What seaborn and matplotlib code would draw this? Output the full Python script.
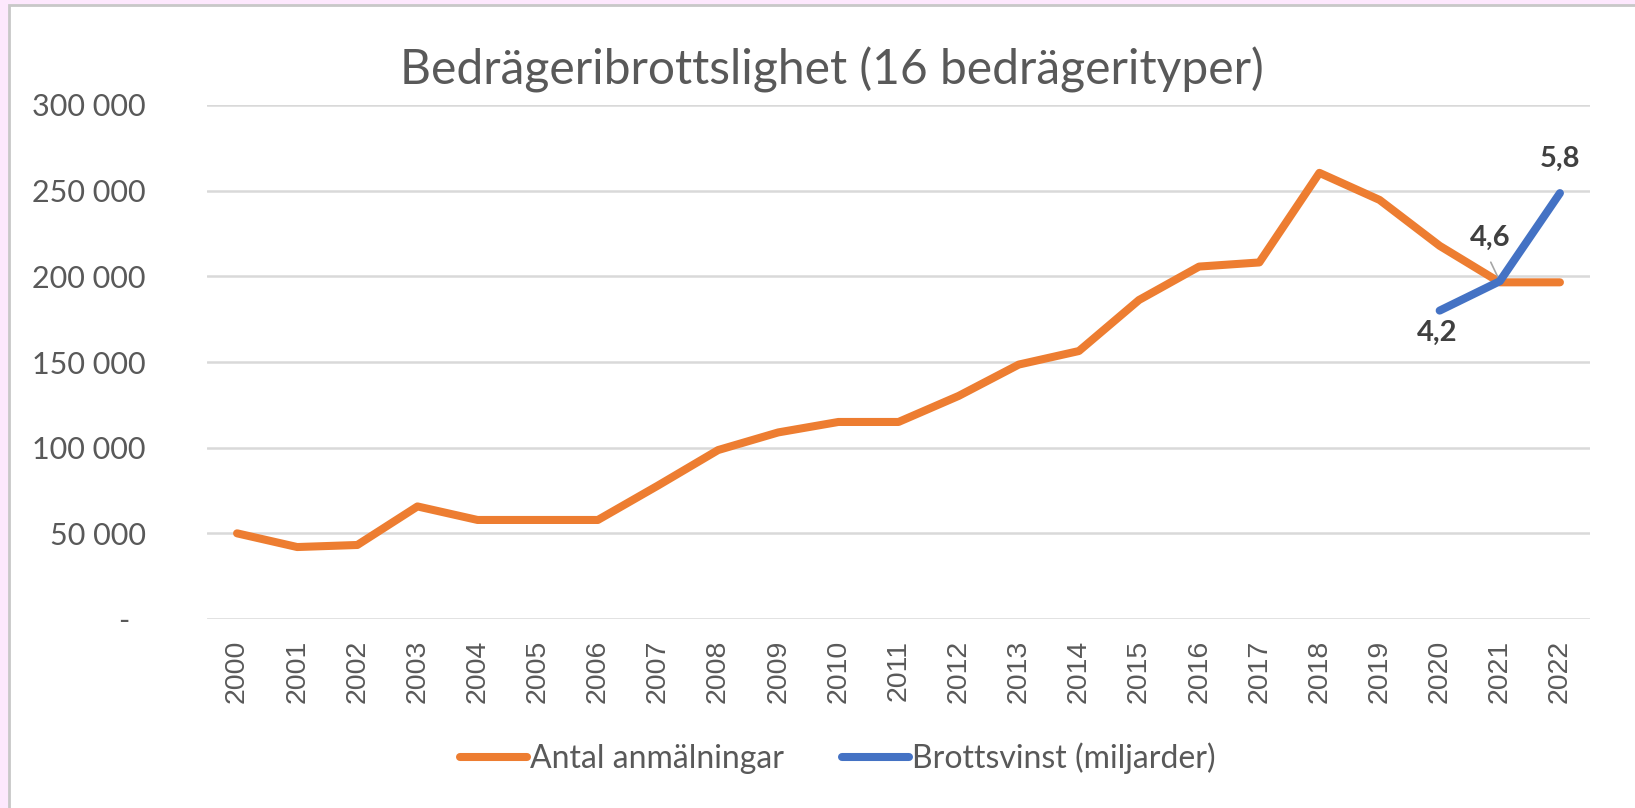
import matplotlib
matplotlib.use("Agg")
import matplotlib.pyplot as plt
import matplotlib.ticker as mticker
from matplotlib.patches import Rectangle
from matplotlib.lines import Line2D
import seaborn as sns
import pandas as pd

# values
years = list(range(2000, 2023))
anmalningar = [50000, 42000, 43200, 65700, 57800, 57800, 57800, 77900, 98600,
               108900, 115000, 115000, 130200, 148500, 156400, 186200, 205700,
               208100, 260400, 244600, 217800, 196500, 196500]
vinst_years = [2020, 2021, 2022]
vinst = [4.2, 4.6, 5.8]
vinst_labels = ["4,2", "4,6", "5,8"]
y_ticks = [0, 50000, 100000, 150000, 200000, 250000, 300000]

ORANGE = "#ED7D31"
BLUE = "#4472C4"
GRID = "#D9D9D9"
TEXT = "#595959"
LABEL = "#404040"

sns.set_theme(style="white")
plt.rcParams["font.family"] = ["Lato", "DejaVu Sans"]

W, H = 1635, 808
fig = plt.figure(figsize=(W / 100, H / 100), dpi=100)
fig.patch.set_facecolor("#FDE8FD")
# white chart area with grey frame on top/left (screenshot crop)
fig.patches.append(Rectangle((9 / W, -0.1), 1.2, 1.1 - 5 / H, transform=fig.transFigure,
                             facecolor="white", edgecolor="#C8C8C8", linewidth=2, zorder=-5))

ax = fig.add_axes([207 / W, 1 - 619 / H, (1590 - 207) / W, (619 - 105) / H])
ax.patch.set_alpha(0)

df = pd.DataFrame({"idx": range(len(years)), "val": anmalningar})
sns.lineplot(data=df, x="idx", y="val", ax=ax, color=ORANGE, linewidth=5.8,
             solid_joinstyle="round", solid_capstyle="round", zorder=3)

ax.set_xlim(-0.5, len(years) - 0.5)
ax.set_ylim(0, 300000)
ax.set_yticks(y_ticks)
ax.yaxis.set_major_formatter(mticker.FuncFormatter(
    lambda v, p: "-  " if v == 0 else f"{int(v):,}".replace(",", " ")))
ax.set_xticks(range(len(years)))
ax.set_xticklabels([str(y) for y in years], rotation=90, fontsize=20.5,
                   family=["Liberation Sans", "DejaVu Sans"], color=TEXT)
ax.tick_params(axis="y", labelsize=22, colors=TEXT, length=0, pad=44)
ax.tick_params(axis="x", length=0, pad=15)
ax.grid(axis="y", color=GRID, linewidth=1.8)
ax.set_axisbelow(True)
for s in ax.spines.values():
    s.set_visible(False)
ax.set_xlabel("")
ax.set_ylabel("")

# secondary (hidden) axis for Brottsvinst
ax2 = ax.twinx()
ax2.set_ylim(0, 7)
vidx = [years.index(y) for y in vinst_years]
df2 = pd.DataFrame({"idx": vidx, "val": vinst})
sns.lineplot(data=df2, x="idx", y="val", ax=ax2, color=BLUE, linewidth=5.8,
             solid_joinstyle="round", solid_capstyle="round", zorder=4)
ax2.set_axis_off()

offsets = [(-1.5, -16), (-7, 31), (0, 24.5)]
for i, v, lab, off in zip(vidx, vinst, vinst_labels, offsets):
    ax2.annotate(lab, (i, v), xytext=off, textcoords="offset points",
                 ha="center", va="center", fontsize=21, fontweight="bold", color=LABEL)
# leader line for 4,6
ax2.annotate("", (vidx[1], vinst[1]), xytext=(-6.5, 13.7), textcoords="offset points",
             arrowprops=dict(arrowstyle="-", color="#A6A6A6", lw=1.2, shrinkA=0, shrinkB=3))

fig.text(832 / W, 1 - 70 / H, "Bedrägeribrottslighet (16 bedrägerityper)",
         ha="center", va="center", fontsize=34.6, color=TEXT)

handles = [Line2D([], [], color=ORANGE, linewidth=5.8, solid_capstyle="round"),
           Line2D([], [], color=BLUE, linewidth=5.8, solid_capstyle="round")]
fig.legend(handles, ["Antal anmälningar", "Brottsvinst (miljarder)"],
           loc="center", bbox_to_anchor=(838 / W, 1 - 758 / H), ncol=2, frameon=False,
           fontsize=23, labelcolor=TEXT, handlelength=2.1, handletextpad=0.1,
           columnspacing=1.8)

fig.savefig("out.png", dpi=100, facecolor=fig.get_facecolor())
